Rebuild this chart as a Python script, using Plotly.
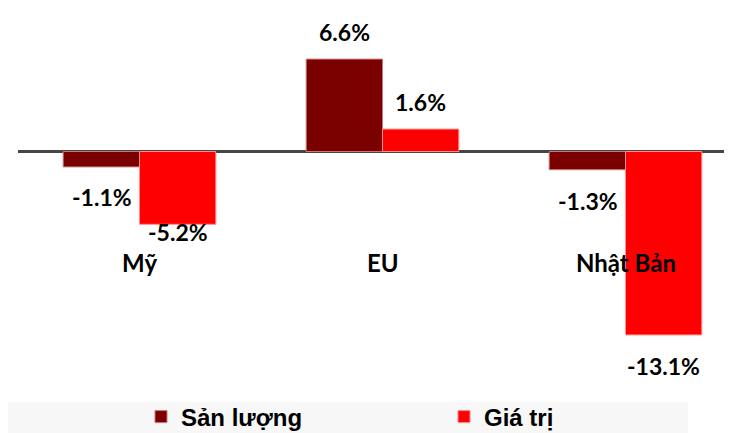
import plotly.graph_objects as go

categories = ["Mỹ", "EU", "Nhật Bản"]
san_luong = [-1.1, 6.6, -1.3]
gia_tri = [-5.2, 1.6, -13.1]
series_names = ["Sản lượng", "Giá trị"]

# style (not data)
colors = ["#7B0000", "#FF0000"]
edge_colors = ["#C87878", "#FF8C8C"]
label_shift = [[-30, 27, -31], [-8, 27, -31]]   # px offsets of value labels
bar_px_offset = 38                               # half distance between grouped bar centres

# page body has an 8px margin, so the figure is sized to the visible area
W, H = 724, 425
ml, mr, mt, mb = 10, 0, 0, 33
plot_w = W - ml - mr
plot_h = H - mt - mb
px_per_cat = 243.0
zero_px = 143.5
px_per_unit = 14.0

x_range = [-0.5, -0.5 + plot_w / px_per_cat]
y_range = [-(plot_h - zero_px) / px_per_unit, zero_px / px_per_unit]

fig = go.Figure()
for i, (name, vals) in enumerate(zip(series_names, [san_luong, gia_tri])):
    fig.add_trace(go.Bar(
        x=categories, y=vals, name=name,
        marker=dict(color=colors[i], line=dict(color=edge_colors[i], width=1)),
        hoverinfo="skip",
    ))

label_font = dict(family="Lato, Open Sans, sans-serif", size=23, color="#000000")
annotations = []
for i, vals in enumerate([san_luong, gia_tri]):
    sign = -1 if i == 0 else 1
    for j, (c, v) in enumerate(zip(categories, vals)):
        annotations.append(dict(
            x=c, y=v, xref="x", yref="y", text=f"<b>{v:.1f}%</b>",
            showarrow=False, xshift=sign * bar_px_offset, yshift=label_shift[i][j],
            font=label_font, xanchor="center", yanchor="middle",
        ))

cat_label_y = -7.95
for c in categories:
    annotations.append(dict(
        x=c, y=cat_label_y, xref="x", yref="y", text=f"<b>{c}</b>",
        showarrow=False, font=dict(family="Lato, Open Sans, sans-serif", size=24, color="#000000"),
        xanchor="center", yanchor="middle",
    ))

# legend band
shapes = [dict(
    type="rect", xref="paper", yref="paper", layer="below",
    x0=(0 - ml) / plot_w, x1=(680 - ml) / plot_w,
    y0=-(394 - mt - plot_h) / plot_h, y1=-(H - mt - plot_h) / plot_h,
    fillcolor="#F7F7F7", line=dict(width=0),
)]

fig.update_layout(
    width=W, height=H,
    margin=dict(l=ml, r=mr, t=mt, b=mb, pad=0, autoexpand=False),
    paper_bgcolor="white", plot_bgcolor="white",
    barmode="group", bargap=0.372, bargroupgap=0.0,
    showlegend=True,
    legend=dict(
        orientation="h", x=(133 - ml) / plot_w, xanchor="left",
        y=-(409 - mt - plot_h) / plot_h, yanchor="middle",
        font=dict(family="Liberation Sans, Arial, sans-serif", size=24, color="#000000",
                  weight="bold"),
        bgcolor="rgba(0,0,0,0)", entrywidth=258, entrywidthmode="pixels",
        itemclick=False, itemdoubleclick=False,
    ),
    xaxis=dict(range=x_range, showticklabels=False, showgrid=False, zeroline=False,
               showline=False, ticks="", fixedrange=True),
    yaxis=dict(range=y_range, showticklabels=False, showgrid=False, zeroline=True,
               zerolinecolor="#454545", zerolinewidth=3, showline=False, ticks="",
               fixedrange=True),
    annotations=annotations,
    shapes=shapes,
)

fig.write_html("out.html", config={"displayModeBar": False})
